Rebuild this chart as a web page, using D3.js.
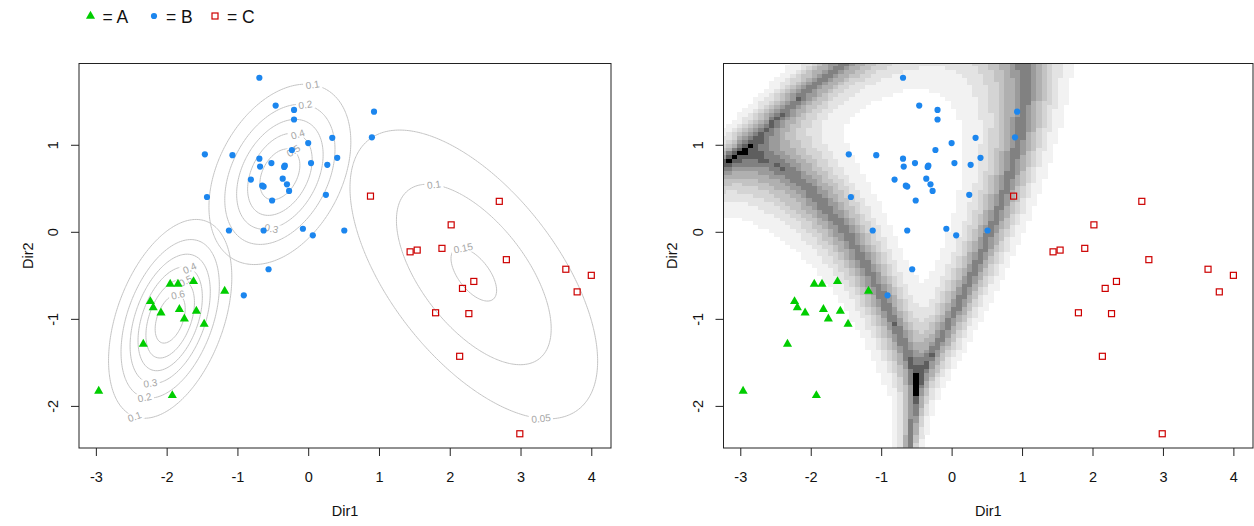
<!DOCTYPE html>
<html>
<head>
<meta charset="utf-8">
<script src="https://cdn.jsdelivr.net/npm/d3@7"></script>
<style>
  body { margin: 0; background: #fff; }
  text { font-family: "Liberation Sans", Arial, sans-serif; }
</style>
</head>
<body>
<svg id="chart" width="1254" height="526"></svg>
<script>
// --- data ---
const classNames = ["A", "B", "C"];
const classColors = ["#00CD00", "#1C86EE", "#CD0000"];

const aX = [-1.95, -1.84, -1.62, -1.18, -2.23, -2.19, -2.08, -1.82, -1.58, -1.75, -1.47, -2.33, -2.96, -1.92];
const aY = [-0.60, -0.60, -0.57, -0.68, -0.80, -0.87, -0.93, -0.89, -0.91, -1.00, -1.06, -1.29, -1.83, -1.88];

const bX = [-0.69, -0.46, -0.20, -0.20, 0.34, 0.00, -1.46, -1.07, -0.23, 0.41, -0.69, -0.68, -0.52, -0.33, -0.34,
            0.04, 0.27, -0.81, -0.36, -0.65, -0.63, -0.30, -0.27, 0.25, -1.43, -0.51, -1.12, -0.63, -0.075, 0.065,
            0.51, -0.56, -0.91, 0.93, 0.90];
const bY = [1.77, 1.45, 1.40, 1.29, 1.08, 1.02, 0.89, 0.88, 0.94, 0.85, 0.84, 0.75, 0.79, 0.76, 0.745,
            0.79, 0.77, 0.60, 0.61, 0.53, 0.52, 0.545, 0.47, 0.425, 0.40, 0.36, 0.015, 0.015, 0.035, -0.04,
            0.015, -0.43, -0.73, 1.38, 1.085];

const cX = [0.88, 2.70, 2.02, 1.44, 1.54, 1.89, 2.80, 3.64, 4.00, 3.80, 2.34, 2.18, 1.80, 2.27, 2.14, 2.99];
const cY = [0.41, 0.35, 0.08, -0.23, -0.21, -0.19, -0.32, -0.43, -0.50, -0.69, -0.57, -0.65, -0.93, -0.94, -1.43, -2.32];

// gaussian class densities
const meanX = [-1.95, -0.40, 2.34];
const meanY = [-1.00, 0.66, -0.49];
const sdX = [0.446, 0.536, 1.16];
const sdY = [0.585, 0.554, 1.10];
const rho = [0.42, 0.36, -0.60];
const contourLevels = [[0.1, 0.2, 0.3, 0.4, 0.5, 0.6], [0.1, 0.2, 0.3, 0.4, 0.5], [0.05, 0.1, 0.15]];

// uncertainty breaks for the grey image
const uncertaintyBreaks = [0.035, 0.08, 0.13, 0.19, 0.26, 0.34, 0.42, 0.5, 0.6];

const xTicks = [-3, -2, -1, 0, 1, 2, 3, 4];
const yTicks = [-2, -1, 0, 1];

// --- layout ---
const panels = [
  { left: 79, right: 611, top: 63.5, bottom: 448, ylab: 33, image: false },
  { left: 723.5, right: 1253, top: 63.5, bottom: 448, ylab: 677, image: true }
];
// screen angle (deg) from class centre where each contour label sits
const labelAngles = [[110, 108, 107, -69, -68, -72], [-70, -70, 99, -66, -60], [65, -114, -112]];

const svg = d3.select("#chart");

const groups = [
  { x: aX, y: aY }, { x: bX, y: bY }, { x: cX, y: cY }
];
const nPts = groups.map(g => g.x.length);
const prior = nPts.map(n => n / d3.sum(nPts));

function pad(ext) {
  const d = (ext[1] - ext[0]) * 0.04;
  return [ext[0] - d, ext[1] + d];
}
const xDom = pad(d3.extent([].concat(aX, bX, cX)));
const yDom = pad(d3.extent([].concat(aY, bY, cY)));

function logDens(k, x, y) {
  const dx = (x - meanX[k]) / sdX[k], dy = (y - meanY[k]) / sdY[k];
  const r = rho[k], q = 1 - r * r;
  return -(dx * dx - 2 * r * dx * dy + dy * dy) / (2 * q) - Math.log(2 * Math.PI * sdX[k] * sdY[k] * Math.sqrt(q));
}
function peak(k) {
  return Math.exp(logDens(k, meanX[k], meanY[k]));
}

function drawSymbol(g, k, px, py) {
  if (k === 0) {
    g.append("path").attr("d", d3.symbol(d3.symbolTriangle, 36)())
      .attr("transform", `translate(${px},${py})`).attr("fill", classColors[0]);
  } else if (k === 1) {
    g.append("circle").attr("cx", px).attr("cy", py).attr("r", 3.1).attr("fill", classColors[1]);
  } else {
    g.append("rect").attr("x", px - 3).attr("y", py - 3).attr("width", 6).attr("height", 6)
      .attr("fill", "none").attr("stroke", classColors[2]).attr("stroke-width", 1.2);
  }
}

// legend
const legend = svg.append("g");
const legendX = [90.5, 154, 215];
classNames.forEach((nm, k) => {
  drawSymbol(legend, k, legendX[k], 16);
  legend.append("text").attr("x", legendX[k] + 12).attr("y", 22.5)
    .attr("font-size", 17.5).attr("fill", "#111").text("= " + nm);
});

panels.forEach((p, pi) => {
  const x = d3.scaleLinear().domain(xDom).range([p.left, p.right]);
  const y = d3.scaleLinear().domain(yDom).range([p.bottom, p.top]);
  const kx = (p.right - p.left) / (xDom[1] - xDom[0]);
  const ky = (p.bottom - p.top) / (yDom[1] - yDom[0]);

  const clipId = "clip" + pi;
  svg.append("clipPath").attr("id", clipId).append("rect")
    .attr("x", p.left).attr("y", p.top).attr("width", p.right - p.left).attr("height", p.bottom - p.top);
  const plot = svg.append("g").attr("clip-path", `url(#${clipId})`);

  if (!p.image) {
    // contours of each class density
    const nx = 300, ny = 220;
    const sx = (xDom[1] - xDom[0]) / (nx - 1), sy = (yDom[1] - yDom[0]) / (ny - 1);
    const proj = d3.geoTransform({
      point(cx, cy) { this.stream.point(x(xDom[0] + (cx - 0.5) * sx), y(yDom[0] + (cy - 0.5) * sy)); }
    });
    const path = d3.geoPath(proj);
    const lines = plot.append("g");
    const labels = plot.append("g");
    classNames.forEach((nm, k) => {
      const vals = new Float64Array(nx * ny);
      for (let j = 0; j < ny; j++)
        for (let i = 0; i < nx; i++)
          vals[j * nx + i] = Math.exp(logDens(k, xDom[0] + i * sx, yDom[0] + j * sy));
      const cs = d3.contours().size([nx, ny]).thresholds(contourLevels[k])(vals);
      lines.selectAll(null).data(cs).enter().append("path")
        .attr("d", path).attr("fill", "none").attr("stroke", "#c4c4c4").attr("stroke-width", 1);

      // labels on each ring
      const pk = peak(k), r = rho[k], q = 1 - r * r;
      contourLevels[k].forEach((lev, li) => {
        const a = labelAngles[k][li] * Math.PI / 180;
        const ux = Math.cos(a) / kx, uy = -Math.sin(a) / ky;
        const zx = ux / sdX[k], zy = uy / sdY[k];
        const Q = (zx * zx - 2 * r * zx * zy + zy * zy) / q;
        const t = Math.sqrt(2 * Math.log(pk / lev) / Q);
        const dx = t * zx, dy = t * zy;
        const gxv = (dx - r * dy) / (q * sdX[k]), gyv = (dy - r * dx) / (q * sdY[k]);
        // tangent in screen space
        let ang = -Math.atan2(gxv * ky, gyv * kx) * 180 / Math.PI;
        while (ang > 90) ang -= 180;
        while (ang <= -90) ang += 180;
        const px = x(meanX[k] + t * ux), py = y(meanY[k] + t * uy);
        const lg = labels.append("g").attr("transform", `translate(${px},${py}) rotate(${ang})`);
        const txt = String(lev);
        const w = txt.length * 5.2 + 3;
        lg.append("rect").attr("x", -w / 2).attr("y", -5).attr("width", w).attr("height", 10).attr("fill", "#fff");
        lg.append("text").attr("text-anchor", "middle").attr("dy", "0.35em")
          .attr("font-size", 10).attr("fill", "#a6a6a6").text(txt);
      });
    });
  } else {
    // classification uncertainty image
    const ngrid = 100;
    const gxs = d3.range(ngrid).map(i => xDom[0] + i * (xDom[1] - xDom[0]) / (ngrid - 1));
    const gys = d3.range(ngrid).map(j => yDom[0] + j * (yDom[1] - yDom[0]) / (ngrid - 1));
    const cells = [];
    gys.forEach(gy => gxs.forEach(gx => {
      const lw = classNames.map((nm, k) => Math.log(prior[k]) + logDens(k, gx, gy));
      const m = d3.max(lw);
      const w = lw.map(v => Math.exp(v - m));
      cells.push({ x: gx, y: gy, u: 1 - 1 / d3.sum(w) });
    }));
    const nLevels = uncertaintyBreaks.length + 1;
    const grays = d3.range(nLevels).map(i => {
      const v = Math.round(255 * Math.pow((nLevels - 1 - i) / (nLevels - 1), 1 / 2.2));
      return d3.rgb(v, v, v).formatHex();
    });
    const col = d3.scaleThreshold().domain(uncertaintyBreaks).range(grays);
    const cw = (xDom[1] - xDom[0]) / (ngrid - 1) * kx, ch = (yDom[1] - yDom[0]) / (ngrid - 1) * ky;
    plot.append("g").attr("shape-rendering", "crispEdges")
      .selectAll("rect").data(cells.filter(d => col(d.u) !== "#ffffff")).enter().append("rect")
      .attr("x", d => x(d.x) - cw / 2).attr("y", d => y(d.y) - ch / 2)
      .attr("width", cw + 0.6).attr("height", ch + 0.6).attr("fill", d => col(d.u));
  }

  // points
  const pts = plot.append("g");
  groups.forEach((g, k) => {
    g.x.forEach((v, i) => drawSymbol(pts, k, x(v), y(g.y[i])));
  });

  // box
  svg.append("rect").attr("x", p.left).attr("y", p.top).attr("width", p.right - p.left)
    .attr("height", p.bottom - p.top).attr("fill", "none").attr("stroke", "#222").attr("stroke-width", 1);

  // axes
  const ax = svg.append("g").attr("transform", `translate(0,${p.bottom})`)
    .call(d3.axisBottom(x).tickValues(xTicks).tickSize(8).tickFormat(d => String(d)));
  ax.select(".domain").remove();
  ax.attr("font-size", 14.5).attr("font-family", "Liberation Sans, Arial, sans-serif");
  ax.selectAll(".tick line").attr("stroke", "#222");
  ax.selectAll(".tick text").attr("y", 34).attr("dy", null).attr("fill", "#111");

  const ay = svg.append("g").attr("transform", `translate(${p.left},0)`)
    .call(d3.axisLeft(y).tickValues(yTicks).tickSize(8).tickFormat(d => String(d)));
  ay.select(".domain").remove();
  ay.attr("font-size", 14.5).attr("font-family", "Liberation Sans, Arial, sans-serif");
  ay.selectAll(".tick line").attr("stroke", "#222");
  ay.selectAll(".tick text").attr("x", null).attr("dy", null).attr("text-anchor", "middle")
    .attr("transform", "translate(-21,0) rotate(-90)").attr("fill", "#111");

  svg.append("text").attr("x", (p.left + p.right) / 2).attr("y", 516).attr("text-anchor", "middle")
    .attr("font-size", 14.5).attr("fill", "#111").text("Dir1");
  svg.append("text").attr("transform", `translate(${p.ylab},${(p.top + p.bottom) / 2}) rotate(-90)`)
    .attr("text-anchor", "middle").attr("font-size", 14.5).attr("fill", "#111").text("Dir2");
});
</script>
</body>
</html>
